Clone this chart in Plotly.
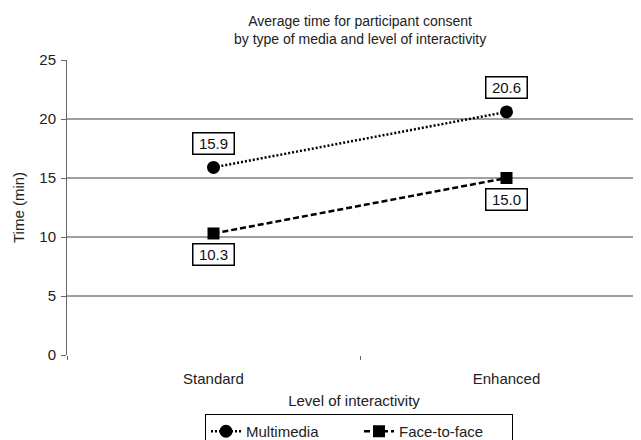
import plotly.graph_objects as go

categories = ["Standard", "Enhanced"]
multimedia = [15.9, 20.6]
face_to_face = [10.3, 15.0]
y_ticks = [0, 5, 10, 15, 20, 25]

font = "Liberation Sans, Arial, sans-serif"
FS = 15
W, H = 633, 432          # page body adds an 8px offset
L, T, B, R = 59, 52, 85, 0
PH = H - T - B           # plot height in px
PW = W - L - R

fig = go.Figure()
fig.add_trace(go.Scatter(
    x=categories, y=multimedia, name="Multimedia", mode="lines+markers",
    line=dict(color="black", width=2.5, dash="2px,2px"),
    marker=dict(symbol="circle", size=13, color="black"),
))
fig.add_trace(go.Scatter(
    x=categories, y=face_to_face, name="Face-to-face", mode="lines+markers",
    line=dict(color="black", width=2.5, dash="6px,3px"),
    marker=dict(symbol="square", size=12, color="black"),
))

for c, v in zip(categories, multimedia):
    fig.add_annotation(x=c, y=v, text=f"{v:.1f}", showarrow=False, yshift=24,
                       width=38, height=18, borderpad=1,
                       bordercolor="black", borderwidth=1.5,
                       bgcolor="white", font=dict(size=FS, color="#111", family=font))
for c, v in zip(categories, face_to_face):
    fig.add_annotation(x=c, y=v, text=f"{v:.1f}", showarrow=False, yshift=-21,
                       width=38, height=18, borderpad=1,
                       bordercolor="black", borderwidth=1.5,
                       bgcolor="white", font=dict(size=FS, color="#111", family=font))

title_text = "Average time for participant consent<br>by type of media and level of interactivity"
fig.add_annotation(xref="paper", yref="paper", x=0.5096, y=(PH + T - 22) / PH,
                   text=title_text, showarrow=False, xanchor="center", yanchor="middle",
                   font=dict(size=FS - 1, color="#222", family=font))

fig.update_layout(
    width=W, height=H,
    margin=dict(l=L, r=R, t=T, b=B, pad=0, autoexpand=False),
    paper_bgcolor="white", plot_bgcolor="white",
    font=dict(family=font, size=FS, color="#222"),
    showlegend=True,
    legend=dict(orientation="h", x=(197 - L) / PW, xanchor="left",
                yref="container", y=1 - 406 / H, yanchor="top",
                bordercolor="black", borderwidth=1, font=dict(size=FS, color="#222"),
                entrywidth=108, entrywidthmode="pixels", tracegroupgap=0),
    xaxis=dict(type="category", range=[-0.5, -0.5 + PW / 293], showgrid=False, automargin=False,
               ticks="outside", tickson="boundaries", ticklen=4, tickcolor="#666",
               ticklabelstandoff=13,
               showline=False, zeroline=False, tickfont=dict(size=FS, color="#222"),
               title=dict(text="Level of interactivity", standoff=9,
                          font=dict(size=FS, color="#222"))),
    yaxis=dict(range=[0, 25], tickvals=y_ticks, showgrid=True, gridcolor="#a0a0a0",
               gridwidth=1.5, showline=True, linecolor="#666", linewidth=1, automargin=False,
               ticks="outside", ticklen=5, tickcolor="#666", zeroline=False,
               ticklabelstandoff=2, tickfont=dict(size=FS, color="#222"),
               title=dict(text="Time (min)", standoff=11, font=dict(size=FS, color="#222"))),
)
fig.add_shape(type="line", xref="paper", yref="y", x0=0, x1=1, y0=5, y1=5,
              line=dict(color="#555", width=1.5), layer="below")

fig.write_html("out.html")
